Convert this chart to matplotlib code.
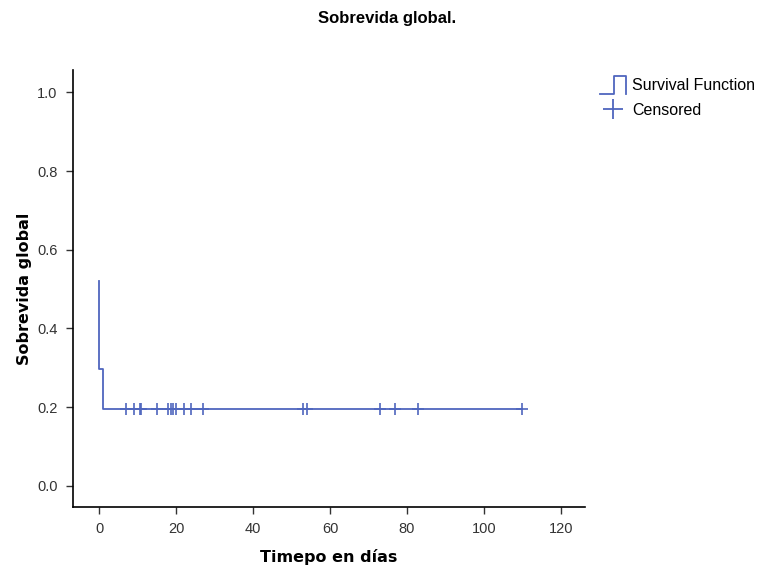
import numpy as np
import matplotlib.pyplot as plt
from matplotlib.lines import Line2D
from matplotlib.legend_handler import HandlerBase

plt.rcParams["font.family"] = ["Liberation Sans", "DejaVu Sans"]

# ===================== 数据 =====================
# 生存函数的阶梯点（时间, 生存率）
step_time = [0, 0, 1, 1, 110]
step_surv = [0.521, 0.296, 0.296, 0.195, 0.195]

# 删失时间
censored_time = [7, 9, 10.5, 11, 15, 18, 18.6, 19.3, 20, 22, 24, 27,
                 53, 54, 73, 77, 83, 110]
censored_surv = [0.195] * len(censored_time)

x_ticks = [0, 20, 40, 60, 80, 100, 120]
y_ticks = [0.0, 0.2, 0.4, 0.6, 0.8, 1.0]

LINE_COLOR = "#4f66be"


class StepHandler(HandlerBase):
    """图例中的阶梯图标"""
    def create_artists(self, legend, orig_handle, xdescent, ydescent,
                       width, height, fontsize, trans):
        h = 1.6 * height
        y0 = -0.35 * height
        xs = np.array([0, 0.55 * width, 0.55 * width, width, width])
        ys = np.array([y0, y0, y0 + h, y0 + h, y0])
        line = Line2D(xs - xdescent, ys - ydescent,
                      color=LINE_COLOR, lw=1.3, transform=trans)
        return [line]


fig = plt.figure(figsize=(7.59, 5.70), dpi=100)
ax = fig.add_axes([73 / 759, 1 - 507 / 570, (585 - 73) / 759, (507 - 70) / 570])

surv_line, = ax.plot(step_time, step_surv, color=LINE_COLOR, lw=1.3)
ax.plot(censored_time, censored_surv, linestyle="none", marker="+",
        markersize=8, mew=1.2, color=LINE_COLOR)

ax.set_xlim(-6.8, 126.3)
ax.set_ylim(-0.054, 1.057)
ax.set_xticks(x_ticks)
ax.set_yticks(y_ticks)
ax.set_yticklabels([f"{v:.1f}" for v in y_ticks])

for s in ["top", "right"]:
    ax.spines[s].set_visible(False)
ax.spines["left"].set_linewidth(1.2)
ax.spines["bottom"].set_linewidth(1.2)
ax.tick_params(direction="out", length=5, width=1.0, labelsize=10.5,
               colors="#333333", pad=6)

ax.set_xlabel("Timepo en días", fontsize=11.5, fontweight="bold",
              family="DejaVu Sans", labelpad=9)
ax.set_ylabel("Sobrevida global", fontsize=11.5, fontweight="bold",
              family="DejaVu Sans", labelpad=4)

fig.text(387 / 759, 1 - 18 / 570, "Sobrevida global.", ha="center", va="center",
         fontsize=12, fontweight="bold")

# 图例用的删失标记（比图中略大）
cens_proxy = Line2D([], [], linestyle="none", marker="+", markersize=14,
                    mew=1.3, color=LINE_COLOR)

fig.legend([surv_line, cens_proxy], ["Survival Function", "Censored"],
           handler_map={surv_line: StepHandler()},
           loc="upper left", bbox_to_anchor=(600 / 759, 1 - 78 / 570),
           borderaxespad=0, borderpad=0,
           frameon=False, fontsize=11.5, handlelength=1.6, handletextpad=0.4,
           labelspacing=0.6)

plt.savefig("out.png", dpi=100)
